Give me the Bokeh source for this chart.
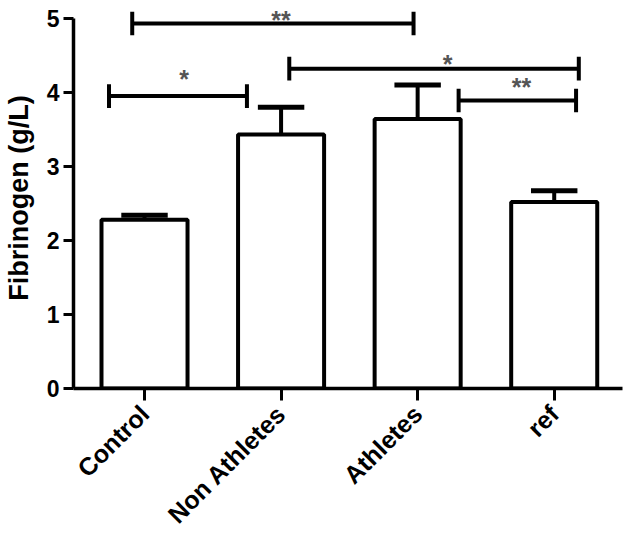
import math
from bokeh.plotting import figure
from bokeh.models import FixedTicker, Range1d
from bokeh.core.properties import value
from bokeh.embed import file_html
from bokeh.resources import INLINE

categories = ["Control", "Non Athletes", "Athletes", "ref"]
means = [2.28, 3.43, 3.64, 2.52]
err_top = [2.34, 3.80, 4.10, 2.67]
y_ticks = [0, 1, 2, 3, 4, 5]

# significance brackets (data coordinates)
br_x0 = [-0.09, -0.26, 1.06, 2.30]
br_x1 = [1.97, 0.75, 3.18, 3.16]
br_y = [4.93, 3.95, 4.32, 3.89]
br_label = ["**", "*", "*", "**"]
br_label_x = [1.00, 0.29, 2.22, 2.76]
br_label_y = [5.03, 4.23, 4.44, 4.13]

xs = list(range(len(categories)))
FONT = "Liberation Sans"

p = figure(width=624, height=544, x_range=Range1d(-0.52, 3.50), y_range=Range1d(0, 5.146),
           output_backend="svg", toolbar_location=None,
           min_border_left=62, min_border_right=2, min_border_top=7, min_border_bottom=156)
p.outline_line_color = None
p.xgrid.visible = False
p.ygrid.visible = False
p.background_fill_color = "white"
p.border_fill_color = "white"

# bars
p.vbar(x=xs, top=means, bottom=0, width=0.63, fill_color="white",
       line_color="black", line_width=4)
# error bars (upper only)
p.segment(x0=xs, y0=means, x1=xs, y1=err_top, line_color="black", line_width=4)
cap = 0.17
p.segment(x0=[x - cap for x in xs], y0=err_top, x1=[x + cap for x in xs], y1=err_top,
          line_color="black", line_width=5)

# brackets
tick_h = 0.16
p.segment(x0=br_x0, y0=br_y, x1=br_x1, y1=br_y, line_color="black", line_width=4)
p.segment(x0=br_x0, y0=[y - tick_h for y in br_y], x1=br_x0, y1=[y + tick_h for y in br_y],
          line_color="black", line_width=4)
p.segment(x0=br_x1, y0=[y - tick_h for y in br_y], x1=br_x1, y1=[y + tick_h for y in br_y],
          line_color="black", line_width=4)
p.text(x=br_label_x, y=[y - 0.055 for y in br_label_y], text=br_label,
       text_font=value(FONT), text_font_size="25px", text_font_style="bold",
       text_color="#555555", text_align="center", text_baseline="middle")

# x axis
xa = p.xaxis[0]
xa.ticker = FixedTicker(ticks=xs)
xa.major_label_overrides = {i: c for i, c in zip(xs, categories)}
xa.major_label_orientation = math.pi / 4
xa.major_label_text_font = FONT
xa.major_label_text_font_size = "25px"
xa.major_label_text_font_style = "bold"
xa.major_label_text_color = "black"
xa.major_label_text_line_height = 0.5
xa.axis_line_width = 3.5
xa.axis_line_color = "black"
xa.major_tick_line_width = 3
xa.major_tick_line_color = "black"
xa.major_tick_out = 12
xa.major_tick_in = 0
xa.minor_tick_line_color = None
xa.major_label_standoff = 9

# y axis
ya = p.yaxis[0]
ya.ticker = FixedTicker(ticks=y_ticks)
ya.bounds = (0, 5)
ya.axis_label = "Fibrinogen (g/L)"
ya.axis_label_text_font = FONT
ya.axis_label_text_font_size = "27px"
ya.axis_label_text_font_style = "bold"
ya.axis_label_text_color = "black"
ya.axis_label_standoff = 10
ya.major_label_text_font = FONT
ya.major_label_text_font_size = "23px"
ya.major_label_text_font_style = "bold"
ya.major_label_text_color = "black"
ya.axis_line_width = 3.5
ya.axis_line_color = "black"
ya.major_tick_line_width = 3
ya.major_tick_line_color = "black"
ya.major_tick_out = 10
ya.major_tick_in = 0
ya.minor_tick_line_color = None
ya.major_label_standoff = 4

open("out.html", "w").write(file_html(p, INLINE))
